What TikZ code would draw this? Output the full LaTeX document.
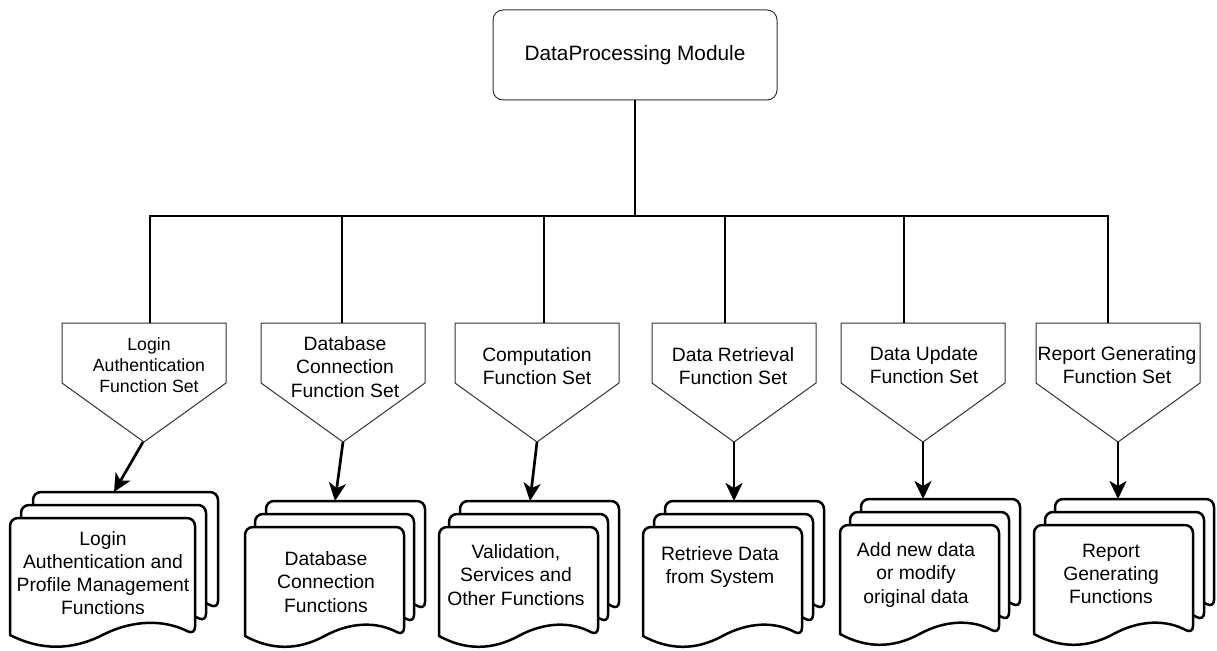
\documentclass[tikz,border=0pt]{standalone}
\usepackage{fontspec}
\setmainfont{Liberation Sans}
\usetikzlibrary{arrows.meta}
\definecolor{edgegray}{RGB}{51,51,51}
\tikzset{
  conn/.style={line width=2.7pt, draw=black},
  arr/.style={line width=2.7pt, draw=black, -{Stealth[length=18pt,width=17pt,inset=5pt]}},
  pentline/.style={line width=1pt, draw=edgegray, fill=white, line join=miter},
  docline/.style={line width=2.5pt, draw=black, fill=white, line join=round},
  lbl/.style={align=center, inner sep=0pt, font=\fontsize{19.3}{23.2}\selectfont},
  smalllbl/.style={align=center, inner sep=0pt, font=\fontsize{17.7}{21}\selectfont},
  topbox/.style={draw=edgegray, line width=1pt, rounded corners=10pt, minimum width=284pt,
    minimum height=90pt, inner sep=0pt, font=\fontsize{20.8}{25}\selectfont}
}
\newcommand\mydoc[5]{%
  \begin{scope}[shift={(#1,#2)}]
    \draw[docline] (0,{#4-#5/2}) {[rounded corners=8pt] -- (0,0) -- (#3,0) -- (#3,{#4-#5/2})}
      .. controls ({5*#3/6},{#4-1.1*#5}) and ({2*#3/3},{#4-1.1*#5}) .. ({#3/2},{#4-#5/2})
      .. controls ({#3/3},{#4+0.1*#5}) and ({#3/6},{#4+0.1*#5}) .. (0,{#4-#5/2}) -- cycle;
  \end{scope}}
\newcommand\mypent[1]{%
  \draw[pentline] (#1,323) -- ({#1+164},323) -- ({#1+164},383) -- ({#1+82},442) -- (#1,383) -- cycle;}
\begin{document}
\begin{tikzpicture}[x=1pt,y=-1pt]
\useasboundingbox (0,0) rectangle (1217,650);

% top node
\node[topbox] (top) at (635,55) {DataProcessing Module};
\coordinate (bus) at (635,216);

% pentagon tops (drop points) and tips
\coordinate (d1) at (150,323);
\coordinate (d2) at (342,323);
\coordinate (d3) at (544,323);
\coordinate (d4) at (725,323);
\coordinate (d5) at (904,323);
\coordinate (d6) at (1108,323);

\coordinate (t1) at (143,442);
\coordinate (t2) at (343,442);
\coordinate (t3) at (537,442);
\coordinate (t4) at (734,442);
\coordinate (t5) at (923,442);
\coordinate (t6) at (1118,442);

% pentagons
\mypent{62}
\mypent{261}
\mypent{455}
\mypent{652}
\mypent{841}
\mypent{1036}

% tree lines
\draw[conn] (top.south) -- (top.south |- bus);
\draw[conn] (d1) -- (d1 |- bus) -- (d6 |- bus) -- (d6);
\draw[conn] (d2 |- bus) -- (d2);
\draw[conn] (d3 |- bus) -- (d3);
\draw[conn] (d4 |- bus) -- (d4);
\draw[conn] (d5 |- bus) -- (d5);

% pentagon labels
\node[smalllbl] (p1) at (149,365) {Login\\Authentication\\Function Set};
\node[lbl] (p2) at (345,367) {Database\\Connection\\Function Set};
\node[lbl] (p3) at (537,366) {Computation\\Function Set};
\node[lbl] (p4) at (733,366) {Data Retrieval\\Function Set};
\node[lbl] (p5) at (924,365) {Data Update\\Function Set};
\node[lbl] (p6) at (1117,365) {Report Generating\\Function Set};

% documents (back, middle, front)
\mydoc{33}{492}{185}{130}{26}
\mydoc{21}{505}{185}{130}{26}
\mydoc{10}{518}{185}{130}{26}

\mydoc{266}{501}{159}{121}{24}
\mydoc{255}{514}{159}{121}{24}
\mydoc{245}{527}{159}{121}{24}

\mydoc{460}{501}{159}{121}{24}
\mydoc{449}{514}{159}{121}{24}
\mydoc{439}{527}{159}{121}{24}

\mydoc{665}{501}{159}{121}{24}
\mydoc{654}{514}{159}{121}{24}
\mydoc{643}{527}{159}{121}{24}

\mydoc{861}{499}{159}{121}{24}
\mydoc{850}{512}{159}{121}{24}
\mydoc{840}{525}{159}{121}{24}

\mydoc{1055}{499}{159}{121}{24}
\mydoc{1045}{512}{159}{121}{24}
\mydoc{1034}{525}{159}{121}{24}

% arrow targets
\coordinate (g1) at (114,492);
\coordinate (g2) at (335,501);
\coordinate (g3) at (530,501);
\coordinate (g4) at (734,501);
\coordinate (g5) at (923,499);
\coordinate (g6) at (1118,499);

\draw[arr] (t1) -- (g1);
\draw[arr] (t2) -- (g2);
\draw[arr] (t3) -- (g3);
\draw[arr] (t4) -- (g4);
\draw[arr] (t5) -- (g5);
\draw[arr] (t6) -- (g6);

% document labels
\node[lbl] (f1) at (103,573) {Login\\Authentication and\\Profile Management\\Functions};
\node[lbl] (f2) at (326,582) {Database\\Connection\\Functions};
\node[lbl] (f3) at (516,575) {Validation,\\Services and\\Other Functions};
\node[lbl] (f4) at (720,567) {Retrieve Data\\from System};
\node[lbl] (f5) at (916,575) {Add new data\\or modify\\original data};
\node[lbl] (f6) at (1111,574) {Report\\Generating\\Functions};
\end{tikzpicture}
\end{document}
